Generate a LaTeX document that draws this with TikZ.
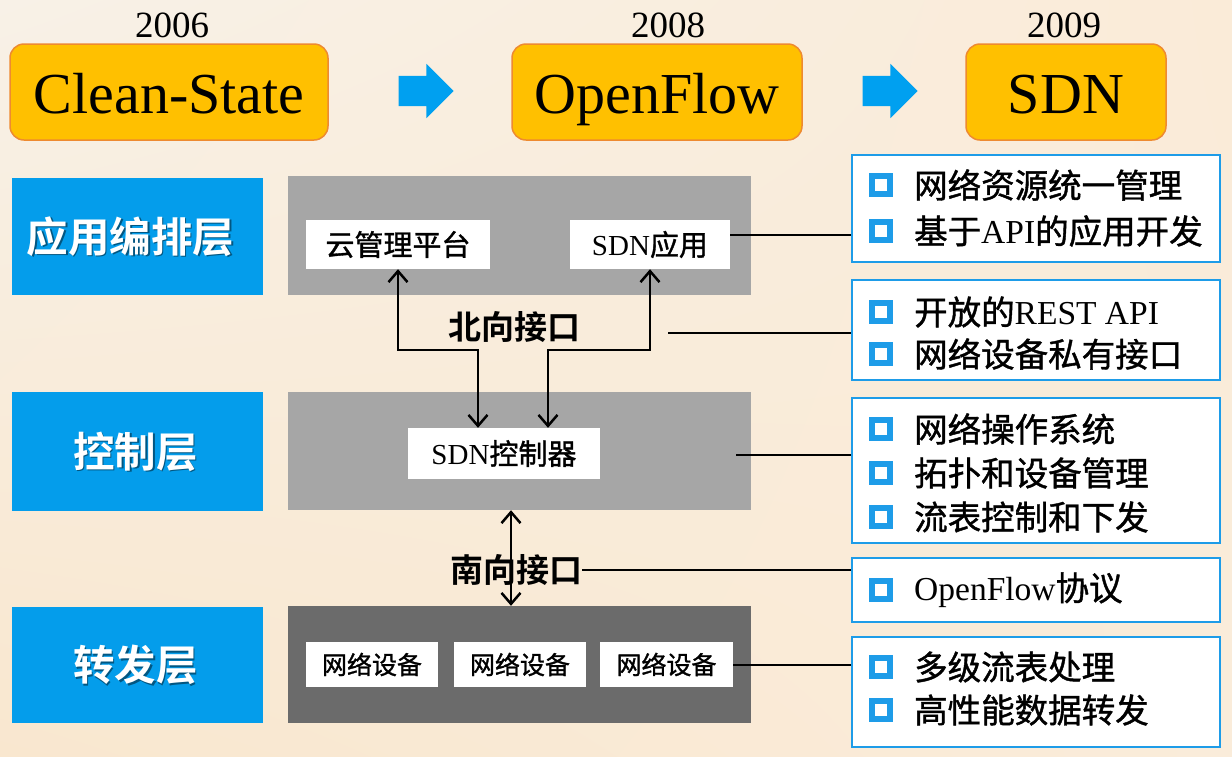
\documentclass[tikz,border=0pt]{standalone}
\usepackage{fontspec}
\setmainfont{Liberation Serif}
\newfontfamily\cjk{Noto Sans CJK SC}[BoldFont={Noto Sans CJK SC Bold}]
\newfontfamily\cjkm{Noto Sans CJK SC}[FakeBold=1.2]
\usetikzlibrary{shapes.arrows,arrows.meta,shadings}
\definecolor{gold}{HTML}{FFC000}
\definecolor{goldedge}{HTML}{EE8A30}
\definecolor{lblue}{HTML}{049DEB}
\definecolor{ablue}{HTML}{00A0F0}
\definecolor{bblue}{HTML}{1E9CE8}
\definecolor{pgray}{HTML}{A6A6A6}
\definecolor{dgray}{HTML}{6B6B6B}
\definecolor{bgA}{HTML}{F8F1E7}
\definecolor{bgB}{HTML}{FAECDA}
\definecolor{bgC}{HTML}{F9E7CF}
\definecolor{bgD}{HTML}{FAEBD8}
\begin{document}
\begin{tikzpicture}[x=1pt,y=-1pt,
  topbox/.style={draw=goldedge, line width=1.5pt, fill=gold, rounded corners=14pt, inner sep=0pt, text height=42pt, text depth=0pt, font=\fontsize{58}{60}\selectfont},
  year/.style={inner sep=0pt, font=\fontsize{37}{40}\selectfont},
  blockarrow/.style={single arrow, fill=ablue, draw=none, inner sep=15pt, minimum height=55pt, single arrow head extend=12pt, shape border rotate=0},
  layerbox/.style={fill=lblue, inner sep=0pt},
  layertxt/.style={text=white, inner sep=0pt, font=\cjk\bfseries\fontsize{41.5}{44}\selectfont},
  layershadow/.style={text=black, opacity=0.45, inner sep=0pt, font=\cjk\bfseries\fontsize{41.5}{44}\selectfont},
  panel/.style={inner sep=0pt},
  wbox/.style={fill=white, inner sep=0pt, font=\fontsize{29}{32}\selectfont},
  devbox/.style={fill=white, inner sep=0pt, minimum height=45pt, font=\cjkm\fontsize{25}{28}\selectfont},
  iface/.style={inner sep=0pt, font=\cjk\bfseries\fontsize{33}{36}\selectfont},
  infobox/.style={draw=bblue, line width=2pt, fill=white, inner sep=0pt, minimum width=368pt},
  bul/.style={draw=bblue, line width=6pt, fill=white, minimum size=18pt, inner sep=0pt},
  itemtxt/.style={anchor=west, inner sep=0pt, font=\fontsize{33.5}{36}\selectfont},
  link/.style={line width=2.5pt, draw=black},
  arr/.style={line width=2.5pt, draw=black, {Straight Barb[length=11pt,width=19pt]}-{Straight Barb[length=11pt,width=19pt]}}
]
\useasboundingbox (0,0) rectangle (1232,756);
\shade[upper left=bgA, upper right=bgD, lower left=bgC, lower right=bgB] (0,0) rectangle (1232,756);

% timeline
\node[topbox, minimum width=318pt, minimum height=96pt] (cs) at (169,92) {Clean-State};
\node[topbox, minimum width=290pt, minimum height=96pt] (of) at (657,92) {OpenFlow};
\node[topbox, minimum width=200pt, minimum height=96pt] (sdn) at (1066,92) {SDN};
\node[year] (y1) at (172,25) {2006};
\node[year] (y2) at (668,25) {2008};
\node[year] (y3) at (1064,25) {2009};
\node[blockarrow] (a1) at (418.5,91) {};
\node[blockarrow] (a2) at (882.5,91) {};

% layer labels
\node[layerbox, minimum width=251pt, minimum height=117pt] (L1) at (137.5,236.5) {};
\node[layerbox, minimum width=251pt, minimum height=119pt] (L2) at (137.5,451.5) {};
\node[layerbox, minimum width=251pt, minimum height=116pt] (L3) at (137.5,665) {};
\node[layershadow] (L1s) at (132,238) {应用编排层};
\node[layertxt] (L1t) at (130.5,236.5) {应用编排层};
\node[layershadow] (L2s) at (137,453) {控制层};
\node[layertxt] (L2t) at (135.5,451.5) {控制层};
\node[layershadow] (L3s) at (137,666.5) {转发层};
\node[layertxt] (L3t) at (135.5,665) {转发层};

% panels
\node[panel, fill=pgray, minimum width=463pt, minimum height=119pt] (P1) at (519.5,235.5) {};
\node[panel, fill=pgray, minimum width=463pt, minimum height=118pt] (P2) at (519.5,451) {};
\node[panel, fill=dgray, minimum width=463pt, minimum height=117pt] (P3) at (519.5,664.5) {};

% white boxes
\node[wbox, minimum width=184pt, minimum height=49pt] (cloud) at (398,244.5) {\cjkm 云管理平台};
\node[wbox, minimum width=160pt, minimum height=49pt] (app) at (650,244.5) {SDN{\cjkm 应用}};
\node[wbox, minimum width=192pt, minimum height=51pt] (ctrl) at (504,453.5) {SDN{\cjkm 控制器}};
\node[devbox, minimum width=132pt] (d1) at (372,664.5) {网络设备};
\node[devbox, minimum width=132pt] (d2) at (520,664.5) {网络设备};
\node[devbox, minimum width=133pt] (d3) at (666.5,664.5) {网络设备};

% interfaces
\coordinate (nl) at (478,350);
\coordinate (nr) at (548,350);
\coordinate (sx) at (511,0);
\draw[arr] (cloud.south) |- (nl) -- (nl |- ctrl.north);
\draw[arr] (app.south) |- (nr) -- (nr |- ctrl.north);
\draw[arr] (sx |- P2.south) -- (sx |- P3.north);
\node[iface] (nb) at (514,327) {北向接口};
\node[iface] (sb) at (516,570) {南向接口};

% info boxes
\node[infobox, minimum height=107pt] (B1) at (1036,208.5) {};
\node[infobox, minimum height=100pt] (B2) at (1036,330) {};
\node[infobox, minimum height=145pt] (B3) at (1036,470.5) {};
\node[infobox, minimum height=64pt] (B4) at (1036,590) {};
\node[infobox, minimum height=110pt] (B5) at (1036,692) {};

\node[bul] (b11) at (881,185) {}; \node[itemtxt] (t11) at (914,185) {\cjkm 网络资源统一管理};
\node[bul] (b12) at (881,231) {}; \node[itemtxt] (t12) at (914,231) {{\cjkm 基于}API{\cjkm 的应用开发}};
\node[bul] (b21) at (881,312) {}; \node[itemtxt] (t21) at (914,312) {{\cjkm 开放的}REST API};
\node[bul] (b22) at (881,354) {}; \node[itemtxt] (t22) at (914,354) {\cjkm 网络设备私有接口};
\node[bul] (b31) at (881,429) {}; \node[itemtxt] (t31) at (914,429) {\cjkm 网络操作系统};
\node[bul] (b32) at (881,473) {}; \node[itemtxt] (t32) at (914,473) {\cjkm 拓扑和设备管理};
\node[bul] (b33) at (881,517) {}; \node[itemtxt] (t33) at (914,517) {\cjkm 流表控制和下发};
\node[bul] (b41) at (881,590) {}; \node[itemtxt] (t41) at (914,590) {OpenFlow{\cjkm 协议}};
\node[bul] (b51) at (881,667) {}; \node[itemtxt] (t51) at (914,667) {\cjkm 多级流表处理};
\node[bul] (b52) at (881,710) {}; \node[itemtxt] (t52) at (914,710) {\cjkm 高性能数据转发};

% links to info boxes
\coordinate (k1) at (730,235);
\coordinate (k2) at (668,333);
\coordinate (k3) at (736,455);
\coordinate (k5) at (733,665);
\draw[link] (k1) -- (B1.west |- k1);
\draw[link] (k2) -- (B2.west |- k2);
\draw[link] (k3) -- (B3.west |- k3);
\draw[link] (sb.east) -- (B4.west |- sb.east);
\draw[link] (k5) -- (B5.west |- k5);
\end{tikzpicture}
\end{document}
